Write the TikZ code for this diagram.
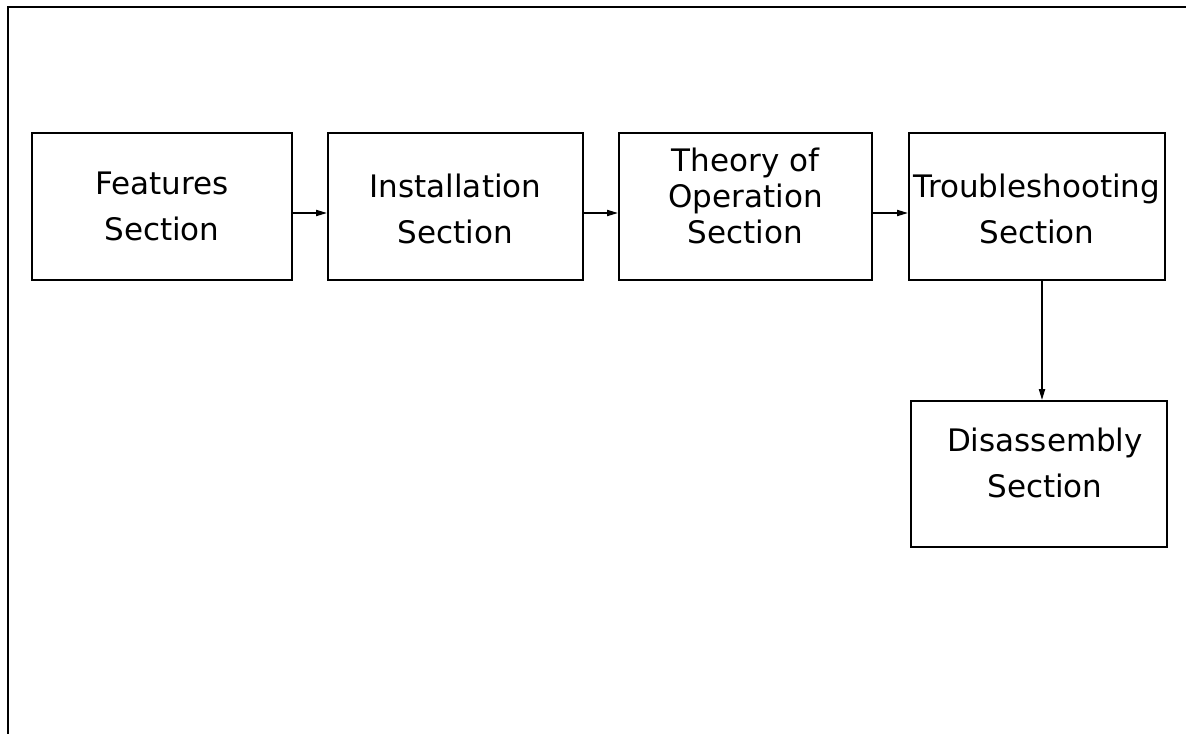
\documentclass[tikz,border=0pt]{standalone}
\usepackage{fontspec}
\setmainfont{DejaVu Sans}
\usetikzlibrary{arrows.meta}
\begin{document}
\begin{tikzpicture}[x=1pt,y=-1pt,
  box/.style={draw, line width=1.8pt, rectangle, inner sep=0pt,
    minimum width=256pt, minimum height=147pt, align=center,
    font=\fontsize{31}{46}\selectfont},
  lbl/.style={inner sep=0pt, align=center},
  conn/.style={line width=1.8pt, -{Triangle[length=11pt,width=6pt]}},
  frame/.style={line width=1.8pt}]
\useasboundingbox (0,0) rectangle (1186,734);
\draw[frame] (1186,7) -- (8,7) -- (8,734);
\node[box, minimum width=260pt] (b1) at (162,206.5) {Features\\Section};
\node[box, minimum width=255pt] (b2) at (455.5,206.5) {};
\node[lbl, font=\fontsize{31}{46}\selectfont] (t2) at (455.5,209) {Installation\\Section};
\node[box, minimum width=253pt] (b3) at (745.5,206.5) {};
\node[lbl, font=\fontsize{31}{36}\selectfont] (t3) at (745.5,196) {Theory of\\Operation\\Section};
\node[box] (b4) at (1037,206.5) {};
\node[lbl, font=\fontsize{31}{46}\selectfont] (t4) at (1037,209) {Troubleshooting\\Section};
\node[box, minimum height=146pt] (b5) at (1039,474) {};
\node[lbl, font=\fontsize{31}{46}\selectfont] (t5) at (1045,463) {Disassembly\\Section};
\draw[conn] ([yshift=-6.5pt]b1.east) -- ([yshift=-6.5pt]b2.west);
\draw[conn] ([yshift=-6.5pt]b2.east) -- ([yshift=-6.5pt]b3.west);
\draw[conn] ([yshift=-6.5pt]b3.east) -- ([yshift=-6.5pt]b4.west);
\draw[conn] ([xshift=5pt]b4.south) -- ([xshift=5pt]b4.south |- b5.north);
\end{tikzpicture}
\end{document}
